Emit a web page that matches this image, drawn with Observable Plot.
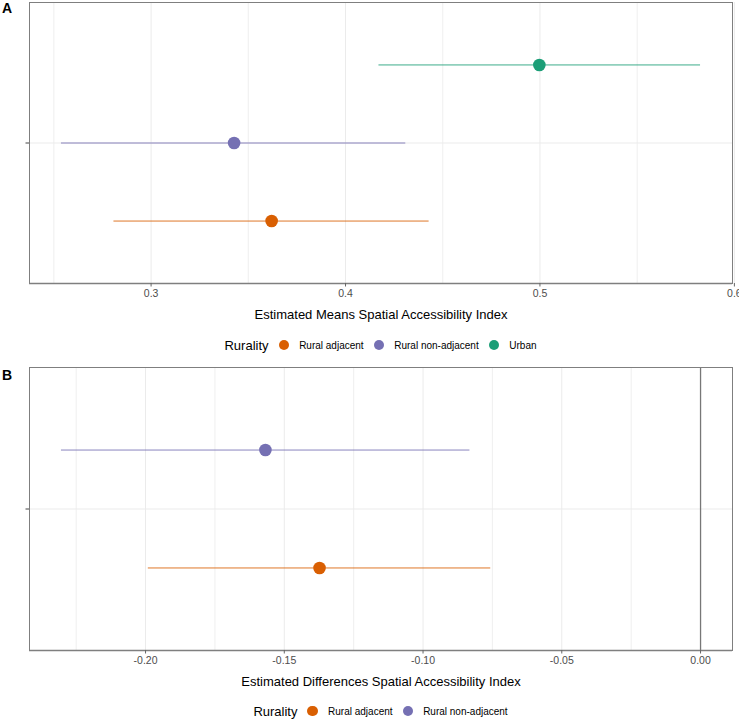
<!DOCTYPE html>
<html>
<head>
<meta charset="utf-8">
<script src="https://cdn.jsdelivr.net/npm/d3@7"></script>
<script src="https://cdn.jsdelivr.net/npm/@observablehq/plot@0.6"></script>
<style>
  body { margin: 0; background: #fff; font-family: "Liberation Sans", Arial, sans-serif; }
  #root { position: relative; width: 739px; height: 721px; overflow: hidden; background: #fff; }
  .panel { position: absolute; left: 0; }
  .tag { position: absolute; left: 2px; font-weight: bold; font-size: 14px; line-height: 14px; color: #000; }
  .legend { position: absolute; left: 29px; width: 703px; height: 18px; display: flex;
            justify-content: center; align-items: center; color: #000; }
  .legend .title { font-size: 13px; }
  .legend .key { display: inline-block; width: 10.6px; height: 10.6px; border-radius: 50%; margin: 0 10px; }
  .legend .lab { font-size: 10px; }
</style>
</head>
<body>
<div id="root"></div>
<script>
// Estimated marginal means by rurality (panel A)
const meanGroups = ["Rural adjacent", "Rural non-adjacent", "Urban"];
const meanEstimate = [0.3620, 0.3427, 0.4997];
const meanLower = [0.2809, 0.2539, 0.4172];
const meanUpper = [0.4430, 0.4310, 0.5826];
const meanTicks = [0.3, 0.4, 0.5, 0.6];
const meanMinorTicks = [0.25, 0.35, 0.45, 0.55];
const meanTitle = "Estimated Means Spatial Accessibility Index";

// Differences from urban by rurality (panel B)
const diffGroups = ["Rural adjacent", "Rural non-adjacent"];
const diffEstimate = [-0.1373, -0.1568];
const diffLower = [-0.1990, -0.2303];
const diffUpper = [-0.0756, -0.0831];
const diffTicks = [-0.20, -0.15, -0.10, -0.05, 0.00];
const diffMinorTicks = [-0.225, -0.175, -0.125, -0.075, -0.025];
const diffTitle = "Estimated Differences Spatial Accessibility Index";

const legendTitle = "Rurality";
const palette = ["#D95F02", "#7570B3", "#1B9E77"];
const panelTags = ["A", "B"];

const font = "'Liberation Sans', Arial, sans-serif";
const frameColor = "#7f7f7f";
const gridColor = "#ebebeb";

// ggplot-style 5% expansion of a continuous range
function expand(lo, hi) {
  const p = 0.05 * (hi - lo);
  return [lo - p, hi + p];
}

// dodge offset of group i among n groups (total width 1) around the single level 1
function dodge(i, n) {
  return 1 + (i - (n - 1) / 2) / n;
}

function panel({groups, est, lower, upper, ticks, minor, title, xDomain, fmt, zeroLine, marginTop, panelHeight}) {
  const rows = groups.map((g, i) => ({
    group: g, est: est[i], lo: lower[i], hi: upper[i], pos: dodge(i, groups.length)
  }));
  const yDomain = [0.4, 1.6];
  const marks = [
    Plot.gridX({ticks: minor, stroke: gridColor, strokeOpacity: 1, strokeWidth: 0.8}),
    Plot.gridX({ticks: ticks, stroke: gridColor, strokeOpacity: 1, strokeWidth: 1}),
    Plot.gridY({ticks: [1], stroke: gridColor, strokeOpacity: 1, strokeWidth: 1})
  ];
  if (zeroLine) marks.push(Plot.ruleX([0], {stroke: "#777", strokeWidth: 1.3}));
  marks.push(
    Plot.ruleY(rows, {y: "pos", x1: "lo", x2: "hi", stroke: "group", strokeWidth: 1, strokeOpacity: 0.85}),
    Plot.dot(rows, {x: "est", y: "pos", fill: "group", r: 6.3}),
    Plot.frame({stroke: frameColor, strokeWidth: 1}),
    Plot.ruleY([yDomain[0]], {stroke: frameColor, strokeWidth: 1.6}),
    Plot.axisX({ticks, tickFormat: fmt, tickSize: 3.5, tickPadding: 2.5, stroke: "#666",
                fill: "#4d4d4d", fontSize: 10.5, label: null}),
    Plot.axisY({ticks: [1], tickFormat: () => "", tickSize: 3.5, stroke: "#444", label: null}),
    Plot.text([title], {text: d => d, frameAnchor: "bottom", dy: 31, lineAnchor: "middle",
                        fontSize: 13, fill: "#000"})
  );
  return Plot.plot({
    width: 739,
    height: marginTop + panelHeight + 46,
    marginTop,
    marginLeft: 29,
    marginRight: 7,
    marginBottom: 46,
    style: {fontFamily: font, background: "#fff", overflow: "visible"},
    x: {domain: xDomain},
    y: {domain: yDomain},
    color: {domain: meanGroups, range: palette},
    marks
  });
}

function legend(groups, top) {
  const div = d3.create("div").attr("class", "legend").style("top", top + "px");
  div.append("span").attr("class", "title").text(legendTitle);
  groups.forEach(g => {
    div.append("span").attr("class", "key").style("background", palette[meanGroups.indexOf(g)]);
    div.append("span").attr("class", "lab").text(g);
  });
  return div.node();
}

const root = document.getElementById("root");

const a = panel({
  groups: meanGroups, est: meanEstimate, lower: meanLower, upper: meanUpper,
  ticks: meanTicks, minor: meanMinorTicks, title: meanTitle,
  xDomain: expand(d3.min(meanLower), d3.max(meanUpper)),
  fmt: d => d.toFixed(1), zeroLine: false, marginTop: 2, panelHeight: 281
});
const aWrap = document.createElement("div");
aWrap.className = "panel"; aWrap.style.top = "0px";
aWrap.appendChild(a);
root.appendChild(aWrap);
root.appendChild(legend(meanGroups, 336));

const b = panel({
  groups: diffGroups, est: diffEstimate, lower: diffLower, upper: diffUpper,
  ticks: diffTicks, minor: diffMinorTicks, title: diffTitle,
  xDomain: expand(Math.min(d3.min(diffLower), 0), Math.max(d3.max(diffUpper), 0)),
  fmt: d => d.toFixed(2), zeroLine: true, marginTop: 2, panelHeight: 283
});
const bWrap = document.createElement("div");
bWrap.className = "panel"; bWrap.style.top = "365px";
bWrap.appendChild(b);
root.appendChild(bWrap);
root.appendChild(legend(diffGroups, 702));

panelTags.forEach((t, i) => {
  const el = document.createElement("div");
  el.className = "tag";
  el.style.top = (i === 0 ? 1 : 368) + "px";
  el.textContent = t;
  root.appendChild(el);
});
</script>
</body>
</html>
